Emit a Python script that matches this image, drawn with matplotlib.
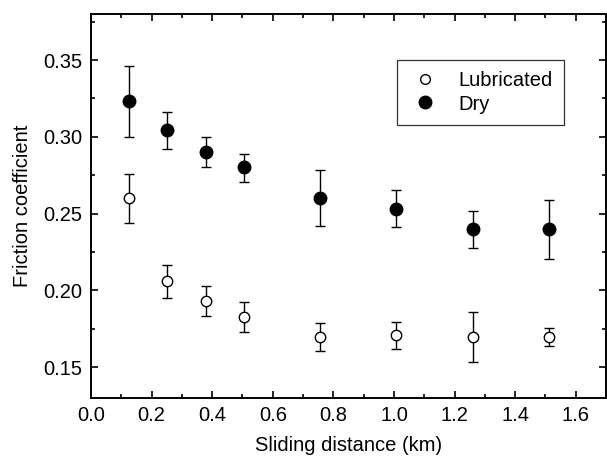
import numpy as np
import matplotlib
matplotlib.use("Agg")
import matplotlib.pyplot as plt
from matplotlib.ticker import MultipleLocator
from matplotlib.lines import Line2D

plt.rcParams['font.family'] = ['Liberation Sans', 'DejaVu Sans']

# sliding distance (km)
distance = [0.126, 0.252, 0.378, 0.504, 0.756, 1.008, 1.26, 1.512]

# lubricated: mean, lower and upper end of error bar
lub_mean = [0.260, 0.206, 0.193, 0.183, 0.170, 0.171, 0.170, 0.170]
lub_low = [0.244, 0.195, 0.1835, 0.173, 0.1606, 0.1617, 0.1537, 0.1638]
lub_high = [0.276, 0.2167, 0.203, 0.1926, 0.1786, 0.1795, 0.1857, 0.1757]

# dry
dry_mean = [0.3236, 0.3046, 0.2904, 0.2805, 0.2604, 0.2531, 0.2402, 0.2402]
dry_low = [0.300, 0.2922, 0.2805, 0.2709, 0.2417, 0.2411, 0.2279, 0.2207]
dry_high = [0.3461, 0.316, 0.300, 0.2891, 0.2782, 0.2656, 0.252, 0.2591]

fig = plt.figure(figsize=(6.07, 4.61), dpi=100)
ax = fig.add_axes([91 / 607, 63 / 461, 515 / 607, 384 / 461])

lub_err = [np.subtract(lub_mean, lub_low), np.subtract(lub_high, lub_mean)]
dry_err = [np.subtract(dry_mean, dry_low), np.subtract(dry_high, dry_mean)]

ax.errorbar(distance, lub_mean, yerr=lub_err, fmt='o', color='black', mfc='white',
            mec='black', mew=1.0, ms=7.5, ecolor='black', elinewidth=1.0,
            capsize=3.5, capthick=1.0)
ax.errorbar(distance, dry_mean, yerr=dry_err, fmt='o', color='black', mfc='black',
            mec='black', ms=9, ecolor='black', elinewidth=1.0,
            capsize=3.5, capthick=1.0)

ax.set_xlim(0, 1.7)
ax.set_ylim(0.13, 0.38)
ax.xaxis.set_major_locator(MultipleLocator(0.2))
ax.xaxis.set_minor_locator(MultipleLocator(0.1))
ax.yaxis.set_major_locator(MultipleLocator(0.05))
ax.yaxis.set_minor_locator(MultipleLocator(0.025))
ax.xaxis.set_major_formatter(plt.FuncFormatter(lambda v, p: f"{v:.1f}"))
ax.yaxis.set_major_formatter(plt.FuncFormatter(lambda v, p: f"{v:.2f}"))

ax.tick_params(which='both', direction='in', top=True, right=True, width=1.2, labelsize=14.5)
ax.tick_params(which='major', length=5, pad=6)
ax.tick_params(which='minor', length=3)
for s in ax.spines.values():
    s.set_linewidth(1.4)

ax.set_xlabel("Sliding distance (km)", fontsize=14.5, labelpad=7.5)
ax.set_ylabel("Friction coefficient", fontsize=14.5, labelpad=8)

handles = [
    Line2D([], [], ls='none', marker='o', mfc='white', mec='black', mew=1.0, ms=7),
    Line2D([], [], ls='none', marker='o', mfc='black', mec='black', ms=9),
]
leg = ax.legend(handles, ['Lubricated', 'Dry'], loc='upper right',
                bbox_to_anchor=(564 / 607, 1 - 60 / 461), bbox_transform=fig.transFigure,
                borderaxespad=0, fontsize=14.5, fancybox=False, frameon=True,
                handlelength=1.7, handletextpad=0.8, borderpad=0.55, labelspacing=0.22)
leg.get_frame().set_edgecolor('black')
leg.get_frame().set_linewidth(0.9)

fig.savefig("out.png", dpi=100)
